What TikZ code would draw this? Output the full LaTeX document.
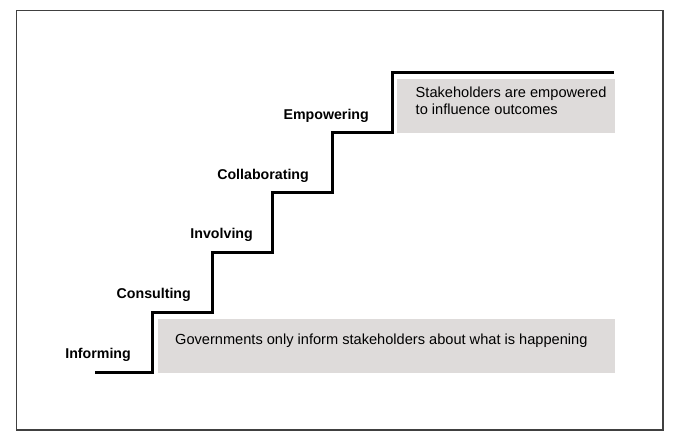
\documentclass[tikz,border=0pt]{standalone}
\usepackage{fontspec}
\setmainfont{Liberation Sans}
\definecolor{boxgray}{HTML}{DEDBDA}
\definecolor{framegray}{HTML}{404040}
\begin{document}
\begin{tikzpicture}[x=1pt,y=-1pt,
  stair/.style={line width=3pt,line join=miter,black},
  lvl/.style={anchor=base east,inner sep=0pt,font=\fontsize{14.2}{17}\selectfont\bfseries},
  note/.style={fill=boxgray,draw=none},
  notetext/.style={anchor=base west,inner sep=0pt,align=left,font=\fontsize{14.6}{17}\selectfont}]
\useasboundingbox (0,0) rectangle (680,443);
\draw[framegray,line width=1.2pt] (16.5,10.5) rectangle (663,430);
% gray boxes
\fill[boxgray] (158,319) rectangle (615,373);
\fill[boxgray] (397,79) rectangle (615,133);
% staircase
\coordinate (s0) at (95,373);
\coordinate (s1) at (152,373);
\coordinate (s2) at (152,313);
\coordinate (s3) at (212,313);
\coordinate (s4) at (212,253);
\coordinate (s5) at (272,253);
\coordinate (s6) at (272,193);
\coordinate (s7) at (332,193);
\coordinate (s8) at (332,133);
\coordinate (s9) at (392,133);
\coordinate (s10) at (392,73);
\coordinate (s11) at (614,73);
\draw[stair] (s0) -- (s1) -- (s2) -- (s3) -- (s4) -- (s5) -- (s6) -- (s7) -- (s8) -- (s9) -- (s10) -- (s11);
% labels
\node[lvl] (inf) at (131,358.3) {Informing};
\node[lvl] (con) at (191,298.3) {Consulting};
\node[lvl] (inv) at (253,239) {Involving};
\node[lvl] (col) at (309,179.5) {Collaborating};
\node[lvl] (emp) at (369,120) {Empowering};
% notes
\node[notetext] (gov) at (175,345) {Governments only inform stakeholders about what is happening};
\node[notetext] (stk) at (415.5,114.3) {Stakeholders are empowered\\to influence outcomes};
\end{tikzpicture}
\end{document}
